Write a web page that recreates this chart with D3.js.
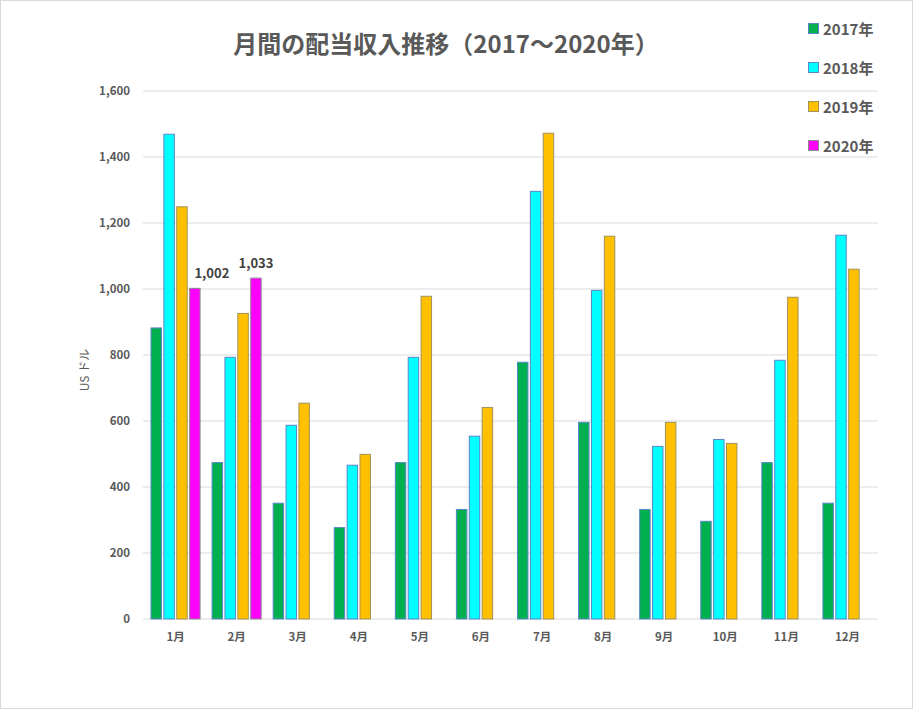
<!DOCTYPE html>
<html><head><meta charset="utf-8">
<script src="https://cdn.jsdelivr.net/npm/d3@7"></script>
<style>body{margin:0;background:#fff}svg{display:block}text{font-family:"Noto Sans CJK JP","Noto Sans",sans-serif}</style>
</head><body><svg id="c" width="914" height="711"></svg>
<script>
const months = ["1月","2月","3月","4月","5月","6月","7月","8月","9月","10月","11月","12月"];
const seriesNames = ["2017年","2018年","2019年","2020年"];
const v2017 = [882,474,351,277,474,332,778,596,332,296,474,351];
const v2018 = [1469,793,587,466,793,554,1296,996,523,544,784,1163];
const v2019 = [1249,926,654,499,978,641,1472,1160,596,532,975,1060];
const v2020 = [1002,1033,null,null,null,null,null,null,null,null,null,null];
const yTicks = [0,200,400,600,800,1000,1200,1400,1600];
const fills = ["#00b050","#00ffff","#ffc000","#ff00ff"];
const strokes = ["#5a86c8","#5a86c8","#a0925a","#8c8c8c"];
const allSeries = [v2017,v2018,v2019,v2020];

const svg = d3.select("#c");
svg.append("rect").attr("x",0.5).attr("y",0.5).attr("width",912).attr("height",708).attr("fill","#fff").attr("stroke","#d9d9d9");

const x0 = d3.scaleBand().domain(months).range([145,878]).paddingInner(0.18).paddingOuter(0.09);
const x1 = d3.scaleBand().domain(seriesNames).range([0,x0.bandwidth()]).paddingInner(0.11);
const y = d3.scaleLinear().domain([0,1600]).range([619,91]);

// grid
svg.append("g").selectAll("line").data(yTicks).join("line")
  .attr("x1",143).attr("x2",878).attr("y1",d=>y(d)).attr("y2",d=>y(d))
  .attr("stroke","#d9d9d9").attr("stroke-width",1);

// y axis labels
const fmt = d3.format(",");
svg.append("g").selectAll("text").data(yTicks).join("text")
  .attr("x",130).attr("y",d=>y(d)+4).attr("text-anchor","end")
  .attr("font-size",11.5).attr("font-weight","bold").attr("fill","#595959").text(d=>fmt(d));

svg.append("text").attr("transform","translate(89,370) rotate(-90)").attr("text-anchor","middle")
  .attr("font-size",12).attr("fill","#595959").text("US ドル");

// bars
const g = svg.append("g");
seriesNames.forEach((s,i)=>{
  const data = months.map((m,j)=>({m, v: allSeries[i][j]})).filter(d=>d.v!=null);
  g.append("g").selectAll("rect").data(data).join("rect")
    .attr("x",d=>x0(d.m)+x1(s)+0.5).attr("y",d=>y(d.v))
    .attr("width",x1.bandwidth()-1).attr("height",d=>y(0)-y(d.v))
    .attr("fill",fills[i]).attr("stroke",strokes[i]).attr("stroke-width",1);
});

// data labels for 2020 (first label was nudged right in the original)
const lab = months.map((m,j)=>({m,v:v2020[j],j})).filter(d=>d.v!=null);
svg.append("g").selectAll("text").data(lab).join("text")
  .attr("x",d=>x0(d.m)+x1("2020年")+x1.bandwidth()/2 + (d.j===0?17:0)).attr("y",d=>y(d.v)-10)
  .attr("text-anchor","middle").attr("font-size",13).attr("font-weight","bold").attr("fill","#404040")
  .text(d=>fmt(d.v));

// x labels
svg.append("g").selectAll("text").data(months).join("text")
  .attr("x",d=>x0(d)+x0.bandwidth()/2).attr("y",641).attr("text-anchor","middle")
  .attr("font-size",11.5).attr("font-weight","bold").attr("fill","#595959").text(d=>d);

// title
svg.append("text").attr("x",446).attr("y",53).attr("text-anchor","middle")
  .attr("font-size",24).attr("font-weight","bold").attr("fill","#595959")
  .text("月間の配当収入推移（2017～2020年）");

// legend
const lg = svg.append("g");
seriesNames.forEach((s,i)=>{
  const cy = 29 + i*39;
  lg.append("rect").attr("x",808.5).attr("y",cy-5.5).attr("width",10).attr("height",10)
    .attr("fill",fills[i]).attr("stroke",strokes[i]);
  lg.append("text").attr("x",823).attr("y",cy+5.5).attr("font-size",15).attr("font-weight","bold")
    .attr("fill","#595959").text(s);
});
</script></body></html>
